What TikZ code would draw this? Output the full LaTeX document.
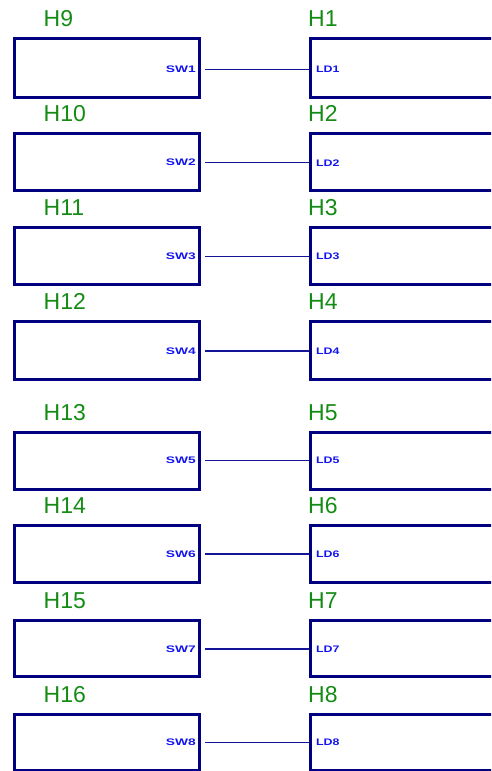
\documentclass[tikz,border=0pt]{standalone}
\usepackage{fontspec}
\setmainfont{Liberation Sans}
\definecolor{framenavy}{RGB}{0,0,128}
\definecolor{tagblue}{RGB}{20,20,240}
\definecolor{wirenavy}{RGB}{20,20,150}
\definecolor{refgreen}{RGB}{20,140,20}
\begin{document}
\begin{tikzpicture}[x=1pt,y=-1pt,
  hbox/.style={draw=framenavy, line width=3pt, inner sep=0pt, anchor=north west},
  refdes/.style={text=refgreen, inner sep=0pt, font=\fontsize{23}{24}\selectfont},
  pintag/.style={text=tagblue, inner sep=0pt, font=\fontsize{9.5}{10}\selectfont\bfseries},
  wire/.style={draw=wirenavy, line width=1.3pt}]
\useasboundingbox (0,0) rectangle (491,771);
\clip (0,0) rectangle (491,771);
\foreach \i/\t/\c/\b/\lt/\rt in {
  1/35/69.5/97/H9/H1,
  2/130/162.7/190/H10/H2,
  3/224/256.7/284/H11/H3,
  4/318/351/379/H12/H4,
  5/429/460.5/489/H13/H5,
  6/522/554/582/H14/H6,
  7/617/649/676/H15/H7,
  8/711/742.7/770/H16/H8}{
  \pgfmathsetmacro\h{\b-\t-3}
  % switch board on the left, load board on the right
  \node[hbox, minimum width=185pt, minimum height=\h pt] (L\i) at (12.5,\t+1.5) {};
  \node[hbox, minimum width=200pt, minimum height=\h pt] (R\i) at (308.5,\t+1.5) {};
  \node[refdes, anchor=base west] (LT\i) at (43.5,\t-8.5) {\lt};
  \node[refdes, anchor=base west] (RT\i) at (308,\t-8.5) {\rt};
  \coordinate (c\i) at (0,\c);
  \node[pintag, anchor=east] (SW\i) at ([xshift=-4.5pt]L\i.east |- c\i) {\scalebox{1.45}[1]{SW\i}};
  \node[pintag, anchor=west] (LD\i) at ([xshift=7.5pt]R\i.west |- c\i) {\scalebox{1.3}[1]{LD\i}};
  \draw[wire] ([xshift=4.5pt]L\i.east |- c\i) -- (R\i.west |- c\i);
}
\end{tikzpicture}
\end{document}
